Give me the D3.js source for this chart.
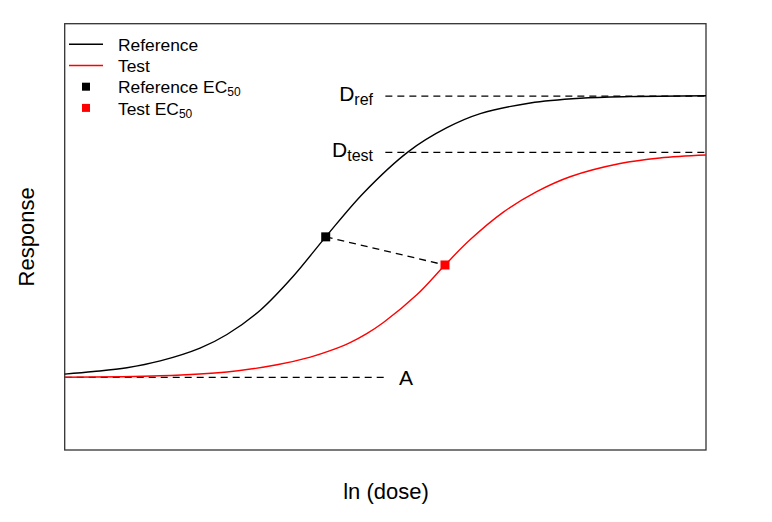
<!DOCTYPE html>
<html>
<head>
<meta charset="utf-8">
<script src="https://cdn.jsdelivr.net/npm/d3@7"></script>
<style>
  body { margin: 0; background: #fff; }
  text { font-family: "Liberation Sans", Arial, sans-serif; fill: #000; }
</style>
</head>
<body>
<svg id="chart" width="772" height="522"></svg>
<script>
// values (x: ln dose units 0..10, y: response 0..100)
const refDose = [0, 0.45, 0.97, 1.49, 2.11, 2.53, 3.05, 3.56, 4.07, 4.66, 5.36, 5.96, 6.48, 7.26, 8.04, 8.82, 10];
const refResp = [17.8, 18.4, 19.3, 20.9, 23.9, 27.1, 32.8, 40.7, 50.0, 60.3, 70.0, 75.6, 78.9, 81.4, 82.5, 82.9, 83.1];

const testDose = [0, 1.49, 2.53, 3.31, 3.83, 4.14, 4.45, 4.71, 4.97, 5.49, 5.93, 6.32, 6.84, 7.36, 7.88, 8.66, 9.28, 10];
const testResp = [17.05, 17.4, 18.3, 20.0, 21.8, 23.3, 25.2, 27.3, 29.9, 36.4, 43.4, 49.3, 55.8, 60.6, 64.1, 67.2, 68.5, 69.2];

const ec50Dose = [4.07, 5.93];
const ec50Resp = [50.0, 43.4];

const levelNames = ["Dref", "Dtest", "A"];
const levelResp = [83.0, 69.8, 17.05];
const levelFrom = [5, 5, 0];
const levelTo = [10, 10, 5];

const legendLabels = ["Reference", "Test", "Reference EC", "Test EC"];

const svg = d3.select("#chart");

const x = d3.scaleLinear().domain([0, 10]).range([64.7, 706]);
const y = d3.scaleLinear().domain([0, 100]).range([450, 23.7]);

const line = d3.line()
  .x((d) => x(d[0]))
  .y((d) => y(d[1]))
  .curve(d3.curveCatmullRom.alpha(0.5));

// frame
svg.append("rect")
  .attr("x", x(0))
  .attr("y", y(100))
  .attr("width", x(10) - x(0))
  .attr("height", y(0) - y(100))
  .attr("fill", "none")
  .attr("stroke", "#333")
  .attr("stroke-width", 1.3);

// dashed levels
levelNames.forEach((name, i) => {
  svg.append("line")
    .attr("x1", x(levelFrom[i]))
    .attr("x2", x(levelTo[i]))
    .attr("y1", y(levelResp[i]))
    .attr("y2", y(levelResp[i]))
    .attr("stroke", "#000")
    .attr("stroke-width", 1.3)
    .attr("stroke-dasharray", "7 5");
});

// connector between EC50s
svg.append("line")
  .attr("x1", x(ec50Dose[0]))
  .attr("y1", y(ec50Resp[0]))
  .attr("x2", x(ec50Dose[1]))
  .attr("y2", y(ec50Resp[1]))
  .attr("stroke", "#000")
  .attr("stroke-width", 1.3)
  .attr("stroke-dasharray", "7 5");

// curves
svg.append("path")
  .datum(d3.zip(refDose, refResp))
  .attr("d", line)
  .attr("fill", "none")
  .attr("stroke", "#000")
  .attr("stroke-width", 1.4);

svg.append("path")
  .datum(d3.zip(testDose, testResp))
  .attr("d", line)
  .attr("fill", "none")
  .attr("stroke", "#ff0000")
  .attr("stroke-width", 1.4);

// EC50 squares
const sq = 9;
svg.selectAll(".ec50")
  .data(d3.zip(ec50Dose, ec50Resp))
  .enter()
  .append("rect")
  .attr("class", "ec50")
  .attr("x", (d) => x(d[0]) - sq / 2)
  .attr("y", (d) => y(d[1]) - sq / 2)
  .attr("width", sq)
  .attr("height", sq)
  .attr("fill", (d, i) => (i === 0 ? "#000" : "#ff0000"));

// level labels
const dLabel = (resp, sub) => {
  const t = svg.append("text")
    .attr("x", 373)
    .attr("y", y(resp) + 4.5)
    .attr("text-anchor", "end")
    .style("font-size", "21px");
  t.append("tspan").text("D");
  t.append("tspan").attr("dy", 4).style("font-size", "16px").text(sub);
};
dLabel(levelResp[0], "ref");
dLabel(levelResp[1], "test");

svg.append("text")
  .attr("x", 399)
  .attr("y", y(levelResp[2]) + 7.5)
  .style("font-size", "21px")
  .text("A");

// axis titles
svg.append("text")
  .attr("x", 386)
  .attr("y", 499)
  .attr("text-anchor", "middle")
  .style("font-size", "22px")
  .text("ln (dose)");

svg.append("text")
  .attr("transform", `translate(34, ${(y(0) + y(100)) / 2}) rotate(-90)`)
  .attr("text-anchor", "middle")
  .style("font-size", "22px")
  .text("Response");

// legend
const legend = svg.append("g");
const rowY = (i) => 44.3 + i * 21.2;
const legendColors = ["#000", "#ff0000", "#000", "#ff0000"];

legendLabels.forEach((label, i) => {
  if (i < 2) {
    legend.append("line")
      .attr("x1", 69)
      .attr("x2", 103)
      .attr("y1", rowY(i))
      .attr("y2", rowY(i))
      .attr("stroke", legendColors[i])
      .attr("stroke-width", 1.4);
  } else {
    legend.append("rect")
      .attr("x", 86 - 4)
      .attr("y", rowY(i) - 4)
      .attr("width", 8)
      .attr("height", 8)
      .attr("fill", legendColors[i]);
  }
  const t = legend.append("text")
    .attr("x", 118)
    .attr("y", rowY(i) + 6.6)
    .style("font-size", "17.4px");
  t.append("tspan").text(label);
  if (i >= 2) {
    t.append("tspan").attr("dy", 3).style("font-size", "12px").text("50");
  }
});
</script>
</body>
</html>
